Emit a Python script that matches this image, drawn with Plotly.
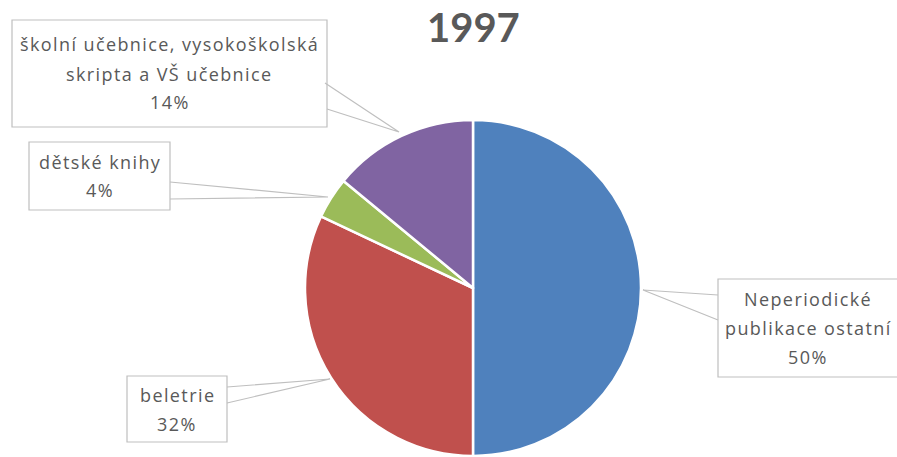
import plotly.graph_objects as go

# ---- data ----
categories = ["Neperiodické publikace ostatní", "beletrie", "dětské knihy",
              "školní učebnice, vysokoškolská skripta a VŠ učebnice"]
values = [50, 32, 4, 14]
label_lines = [["Neperiodické", "publikace ostatní"],
               ["beletrie"],
               ["dětské knihy"],
               ["školní učebnice, vysokoškolská", "skripta a VŠ učebnice"]]
colors = ["#4F81BD", "#C0504D", "#9BBB59", "#8064A2"]
title_text = "1997"

# ---- layout (pixels) ----
W, H = 897, 457
# label boxes: (x0, y0, x1, y1)
boxes = [(718, 279, 906, 377), (127, 376, 227, 442), (29, 142, 170, 210), (12, 20, 327, 127)]
# callout pointers: (edge point 1, tip, edge point 2)
pointers = [((718, 295), (643, 290), (718, 320)),
            ((227, 387), (330, 379), (227, 403)),
            ((170, 182), (328, 197), (170, 199)),
            ((325, 83), (399, 132), (327, 109))]
line_gap = 29
text_color = "#595959"
font_family = "Open Sans, Lato, sans-serif"

def px(x):
    return x / W

def py(y):
    return 1 - y / H

fig = go.Figure(go.Pie(
    labels=categories, values=values, sort=False, direction="clockwise",
    rotation=0, textinfo="none", hoverinfo="label+percent",
    marker=dict(colors=colors, line=dict(color="white", width=2.5)),
    domain=dict(x=[px(473 - 168), px(473 + 168)], y=[py(456), py(120)]),
))

total = sum(values)
shapes, annotations = [], []
for lines, v, (x0, y0, x1, y1), (p1, tip, p2) in zip(label_lines, values, boxes, pointers):
    shapes.append(dict(type="rect", xref="paper", yref="paper",
                       x0=px(x0), x1=px(x1), y0=py(y1), y1=py(y0),
                       line=dict(color="#BFBFBF", width=1.2), fillcolor="white"))
    path = f"M {px(p1[0])},{py(p1[1])} L {px(tip[0])},{py(tip[1])} L {px(p2[0])},{py(p2[1])}"
    shapes.append(dict(type="path", xref="paper", yref="paper", path=path,
                       line=dict(color="#BFBFBF", width=1.2)))
    all_lines = lines + [f"{round(v / total * 100)}%"]
    n = len(all_lines)
    cx = (x0 + min(x1, 898)) / 2
    cy = (y0 + y1) / 2
    for i, t in enumerate(all_lines):
        ly = cy + (i - (n - 1) / 2) * line_gap
        annotations.append(dict(text=f'<span style="letter-spacing:1.4px">{t}</span>',
                                xref="paper", yref="paper", x=px(cx), y=py(ly),
                                xanchor="center", yanchor="middle", showarrow=False,
                                font=dict(family=font_family, size=18, color=text_color)))

annotations.append(dict(text=f"<b>{title_text}</b>", xref="paper", yref="paper",
                        x=px(473), y=py(27), xanchor="center", yanchor="middle",
                        showarrow=False,
                        font=dict(family="Lato, Open Sans, sans-serif", size=40, color=text_color)))

fig.update_layout(width=W, height=H, margin=dict(l=0, r=0, t=0, b=0),
                  showlegend=False, paper_bgcolor="white", plot_bgcolor="white",
                  shapes=shapes, annotations=annotations)

fig.write_html("out.html", config={"displayModeBar": False},
               post_script="document.body.style.margin='0';document.body.style.overflow='hidden';")
